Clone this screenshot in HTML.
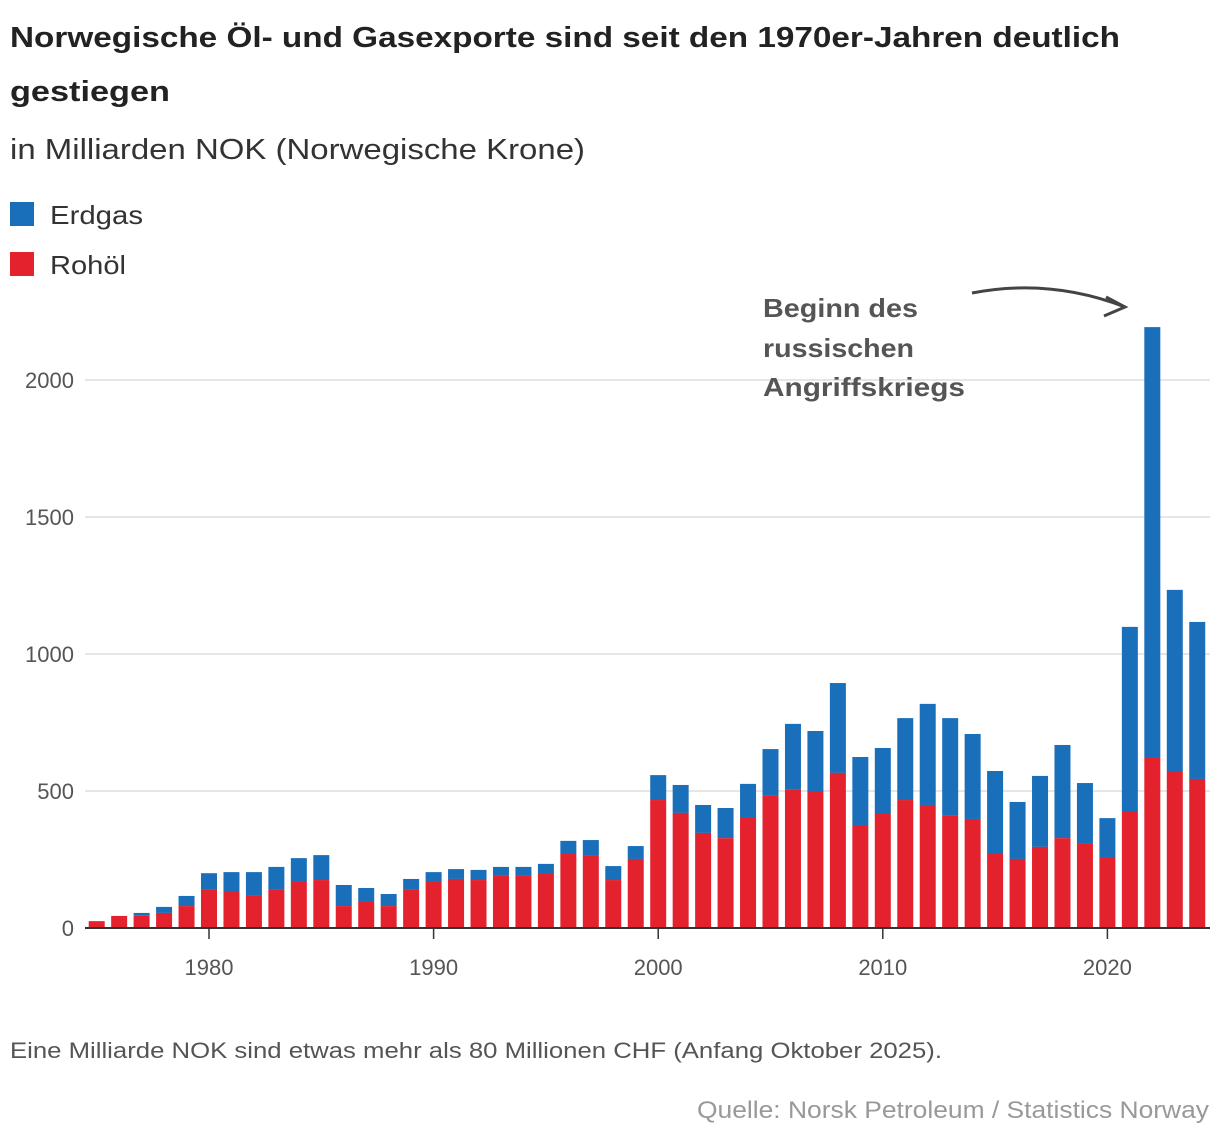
<!DOCTYPE html>
<html><head><meta charset="utf-8"><style>
body{margin:0;width:1220px;height:1142px;background:#fff;font-family:"Liberation Sans","DejaVu Sans",sans-serif;color:#222;overflow:hidden}
</style></head><body>
<svg width="1220" height="1142" id="svg" xmlns="http://www.w3.org/2000/svg">
<text x="10" y="47" font-size="29" font-weight="bold" fill="#222" textLength="1110" lengthAdjust="spacingAndGlyphs">Norwegische Öl- und Gasexporte sind seit den 1970er-Jahren deutlich</text>
<text x="10" y="101" font-size="29" font-weight="bold" fill="#222" textLength="160" lengthAdjust="spacingAndGlyphs">gestiegen</text>
<text x="10" y="159" font-size="29" fill="#333" textLength="575" lengthAdjust="spacingAndGlyphs">in Milliarden NOK (Norwegische Krone)</text>
<rect x="10" y="202" width="24" height="24" fill="#1a6fba"/>
<text x="50" y="224" font-size="26" fill="#333" textLength="93" lengthAdjust="spacingAndGlyphs">Erdgas</text>
<rect x="10" y="252" width="24" height="24" fill="#e3222d"/>
<text x="50" y="274" font-size="26" fill="#333" textLength="76" lengthAdjust="spacingAndGlyphs">Rohöl</text>
<g id="grid"></g><g id="bars"></g><g id="axis"></g>
<g font-size="26" font-weight="bold" fill="#555" lengthAdjust="spacingAndGlyphs">
<text x="763" y="317" textLength="155" lengthAdjust="spacingAndGlyphs">Beginn des</text><text x="763" y="357" textLength="151" lengthAdjust="spacingAndGlyphs">russischen</text><text x="763" y="396" textLength="202" lengthAdjust="spacingAndGlyphs">Angriffskriegs</text>
</g>
<path d="M972 293 Q1050 278 1125 307" fill="none" stroke="#444" stroke-width="3"/>
<path d="M1106 297 L1125 307 L1104 316" fill="none" stroke="#444" stroke-width="3"/>
<text x="10" y="1058" font-size="22" fill="#555" textLength="932" lengthAdjust="spacingAndGlyphs">Eine Milliarde NOK sind etwas mehr als 80 Millionen CHF (Anfang Oktober 2025).</text>
<text x="697" y="1118" font-size="24" fill="#999" textLength="512" lengthAdjust="spacingAndGlyphs">Quelle: Norsk Petroleum / Statistics Norway</text>
</svg>
<script>
const years=[];for(let y=1975;y<=2024;y++)years.push(y);
const totals=[25,44,55,77,117,200,204,204,223,255,266,157,146,124,179,204,215,212,223,223,234,318,321,226,299,558,522,449,438,526,653,745,719,894,624,657,766,818,766,708,573,460,555,668,529,401,1099,2193,1234,1117];
const oil=[25,44,45,55,80,139,135,117,142,168,175,80,95,80,142,168,179,175,190,190,197,270,263,175,252,467,420,347,328,405,485,504,500,566,376,416,467,449,412,398,270,252,296,328,310,259,427,624,573,544];
const yTicks=[0,500,1000,1500,2000];
const xTicks=[1980,1990,2000,2010,2020];
const NS="http://www.w3.org/2000/svg";
const yS=v=>928-v*0.274;
const xS=y=>209+(y-1980)*22.46;
function mk(tag,attrs,parent){const e=document.createElementNS(NS,tag);for(const k in attrs)e.setAttribute(k,attrs[k]);document.getElementById(parent).appendChild(e);return e;}
yTicks.forEach(t=>{
 if(t>0){const l=mk('line',{x1:85,x2:1210,y1:yS(t),y2:yS(t),stroke:'#ddd','stroke-width':1.5},'grid');
 
 }
 const tx=mk('text',{x:74,y:yS(t)+8,'font-size':22,fill:'#555','text-anchor':'end'},'axis');tx.textContent=t;
 
 
});
years.forEach((yr,i)=>{
 const x=xS(yr)-8;
 const g=mk('rect',{x:x,y:yS(totals[i]),width:16,height:yS(oil[i])-yS(totals[i]),fill:'#1a6fba'},'bars');
 
 
 const o=mk('rect',{x:x,y:yS(oil[i]),width:16,height:928-yS(oil[i]),fill:'#e3222d'},'bars');
 
 
});
const base=mk('line',{x1:85,x2:1210,y1:928,y2:928,stroke:'#333','stroke-width':2},'axis');


xTicks.forEach(t=>{
 const tk=mk('line',{x1:xS(t),x2:xS(t),y1:928,y2:939,stroke:'#333','stroke-width':1.5},'axis');
 
 
 const tx=mk('text',{x:xS(t),y:975,'font-size':22,fill:'#555','text-anchor':'middle'},'axis');tx.textContent=t;
 
 
});
</script>
</body></html>
